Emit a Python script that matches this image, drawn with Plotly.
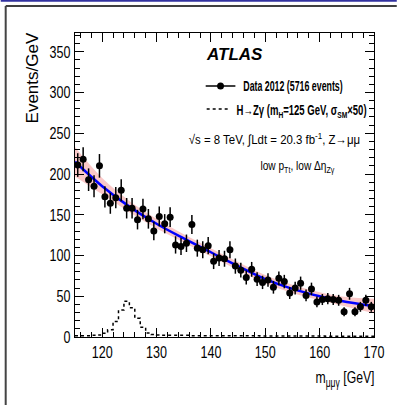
import json
import numpy as np
import plotly.graph_objects as go

# ---------------- data ----------------
mass_centers = [115.5 + i for i in range(55)]
events = [211, 218, 193, 185, 210, 172, 164, 171, 180, 158,
          158, 144, 157, 145, 130, 148, 139, 147, 113, 111,
          115, 138, 109, 107, 112, 93, 97, 96, 107, 87,
          82, 73, 83, 71, 67, 70, 61, 72, 68, 54,
          60, 66, 51, 59, 43, 46, 47, 46, 45, 31,
          53, 31, 37, 45, 37]
events_err = list(np.sqrt(events))

fit_x = [115, 120, 125, 130, 135, 140, 145, 150, 155, 160, 165, 170]
fit_y = [215, 185, 160, 139, 121, 104, 87, 71, 59, 50, 43, 38]
fit_halfwidth = [18, 10, 7, 6, 5, 5, 5, 5, 5, 5, 6, 9]

sig_edges = [115 + i for i in range(56)]
sig_vals = [1.5, 1.5, 1.5, 2, 2.5, 4.5, 9, 19, 33, 44,
            36, 23, 12, 5, 3, 2.5, 2, 2, 2, 2,
            2, 1.5, 1.5, 1.5, 1.5, 1.5, 1.5, 1.5, 1.5, 1.5,
            1.5, 1.5, 1.5, 1.5, 1.2, 1.2, 1.2, 1.2, 1.2, 1.2,
            1.2, 1.2, 1.2, 1.2, 1.2, 1.2, 1, 1, 1, 1,
            1, 1, 1, 1, 1]

x_ticks = [120, 130, 140, 150, 160, 170]
y_ticks = [0, 50, 100, 150, 200, 250, 300, 350]

SANS = "Liberation Sans, Arial, sans-serif"

fig = go.Figure()

band_lo = [y - h for y, h in zip(fit_y, fit_halfwidth)]
band_hi = [y + h for y, h in zip(fit_y, fit_halfwidth)]
fig.add_trace(go.Scatter(x=fit_x, y=band_lo, mode="lines", line=dict(width=0, shape="spline"),
                         showlegend=False, hoverinfo="skip"))
fig.add_trace(go.Scatter(x=fit_x, y=band_hi, mode="lines", line=dict(width=0, shape="spline"),
                         fill="tonexty", fillcolor="rgb(250,200,200)", showlegend=False, hoverinfo="skip"))
fig.add_trace(go.Scatter(x=fit_x, y=fit_y, mode="lines", line=dict(color="#0000ff", width=2.5, shape="spline"),
                         showlegend=False))
fig.add_trace(go.Scatter(x=sig_edges, y=sig_vals + [sig_vals[-1]], mode="lines",
                         line=dict(color="black", width=1.5, dash="dot", shape="hv"), showlegend=False))
fig.add_trace(go.Scatter(x=mass_centers, y=events, mode="markers",
                         marker=dict(color="black", size=7),
                         error_y=dict(type="data", array=events_err, color="black", thickness=1.5, width=0),
                         showlegend=False))

# ---------------- axes ----------------
common = dict(showline=True, linecolor="black", linewidth=1, mirror="allticks", ticks="inside",
              tickcolor="black", ticklen=9, tickwidth=1, showgrid=False, zeroline=False,
              tickfont=dict(family=SANS, size=17, color="black"))
fig.update_xaxes(range=[115, 170], tickvals=x_ticks,
                 minor=dict(dtick=2, tick0=120, ticks="inside", ticklen=5, tickcolor="black"),
                 **common)
fig.update_yaxes(range=[0, 373], tickvals=y_ticks,
                 minor=dict(dtick=10, tick0=0, ticks="inside", ticklen=5, tickcolor="black"),
                 **common)

L, R, T, B = 75, 23, 33, 68
W, H = 400, 405
pw, ph = W - L - R, H - T - B


def px(x):
    return (x - L) / pw


def py(y):
    return (H - B - y) / ph


# (annotation, horizontal condensing factor)
ann_specs = [
    (dict(text="Events/GeV", x=px(32), y=py(78), textangle=-90, xanchor="center", yanchor="middle",
          font=dict(family=SANS, size=17, color="black")), 1.0),
    (dict(text="m<sub>μμγ</sub> [GeV]", x=px(348), y=py(379), xanchor="center", yanchor="middle",
          font=dict(family=SANS, size=17, color="black")), 0.72),
    (dict(text="<b><i>ATLAS</i></b>", x=px(205), y=py(55), xanchor="left", yanchor="middle",
          font=dict(family=SANS, size=17, color="black")), 1.0),
    (dict(text="<b>Data 2012 (5716 events)</b>", x=px(295), y=py(86), xanchor="center", yanchor="middle",
          font=dict(family=SANS, size=14, color="black")), 0.63),
    (dict(text="<b>H→Zγ (m<sub>H</sub>=125 GeV, σ<sub>SM</sub>×50)</b>", x=px(304), y=py(111),
          xanchor="center", yanchor="middle", font=dict(family=SANS, size=14, color="black")), 0.68),
    (dict(text="√s = 8 TeV, ∫Ldt = 20.3 fb<sup>-1</sup>, Z→μμ", x=px(276), y=py(139),
          xanchor="center", yanchor="middle", font=dict(family=SANS, size=13, color="black")), 0.88),
    (dict(text="low p<sub>Tt</sub>, low Δη<sub>Zγ</sub>", x=px(300), y=py(166),
          xanchor="center", yanchor="middle", font=dict(family=SANS, size=13, color="black")), 0.78),
]
annotations = []
ann_scales = []
for a, s in ann_specs:
    a.update(xref="paper", yref="paper", showarrow=False)
    annotations.append(a)
    ann_scales.append(s)

shapes = [
    # legend samples
    dict(type="line", x0=px(207), x1=px(237), y0=py(86), y1=py(86), line=dict(color="black", width=1.5)),
    dict(type="circle", x0=px(218.5), x1=px(225.5), y0=py(89.5), y1=py(82.5),
         fillcolor="black", line=dict(color="black", width=0)),
    dict(type="line", x0=px(208), x1=px(231), y0=py(109), y1=py(109),
         line=dict(color="black", width=1.5, dash="dot")),
    # outer frame
    dict(type="line", x0=px(0), x1=px(400), y0=py(0.8), y1=py(0.8), line=dict(color="rgb(50,50,160)", width=2)),
    dict(type="line", x0=px(5), x1=px(400), y0=py(6), y1=py(6), line=dict(color="black", width=1.5)),
    dict(type="line", x0=px(5), x1=px(5), y0=py(6), y1=py(405), line=dict(color="#444444", width=2)),
]
for s in shapes:
    s.update(xref="paper", yref="paper")

fig.update_layout(width=W, height=H, margin=dict(l=L, r=R, t=T, b=B),
                  paper_bgcolor="white", plot_bgcolor="white",
                  annotations=annotations, shapes=shapes, showlegend=False)

TICK_SCALE = 0.74
post = """
var gd = document.getElementById('{plot_id}');
var annScales = %s;
function sqEl(el, s) {
  if (!el || s === 1) return;
  var tag = 'scale(' + s + ',1)';
  var t = el.getAttribute('transform') || '';
  if (t.indexOf(tag) !== -1) return;
  var cx = parseFloat(el.getAttribute('x')) || 0;
  el.setAttribute('transform', t + ' translate(' + cx + ',0) ' + tag + ' translate(' + (-cx) + ',0)');
}
function sq() {
  gd.querySelectorAll('.xtick text, .ytick text').forEach(function (el) { sqEl(el, %s); });
  gd.querySelectorAll('g.annotation').forEach(function (g) {
    var i = parseInt(g.getAttribute('data-index'));
    var s = annScales[i];
    if (s === undefined) return;
    sqEl(g.querySelector('text.annotation-text'), s);
  });
}
sq();
if (gd.on) gd.on('plotly_afterplot', sq);
setTimeout(sq, 50);
setTimeout(sq, 300);
""" % (json.dumps(ann_scales), TICK_SCALE)

fig.write_html("out.html", post_script=post)
